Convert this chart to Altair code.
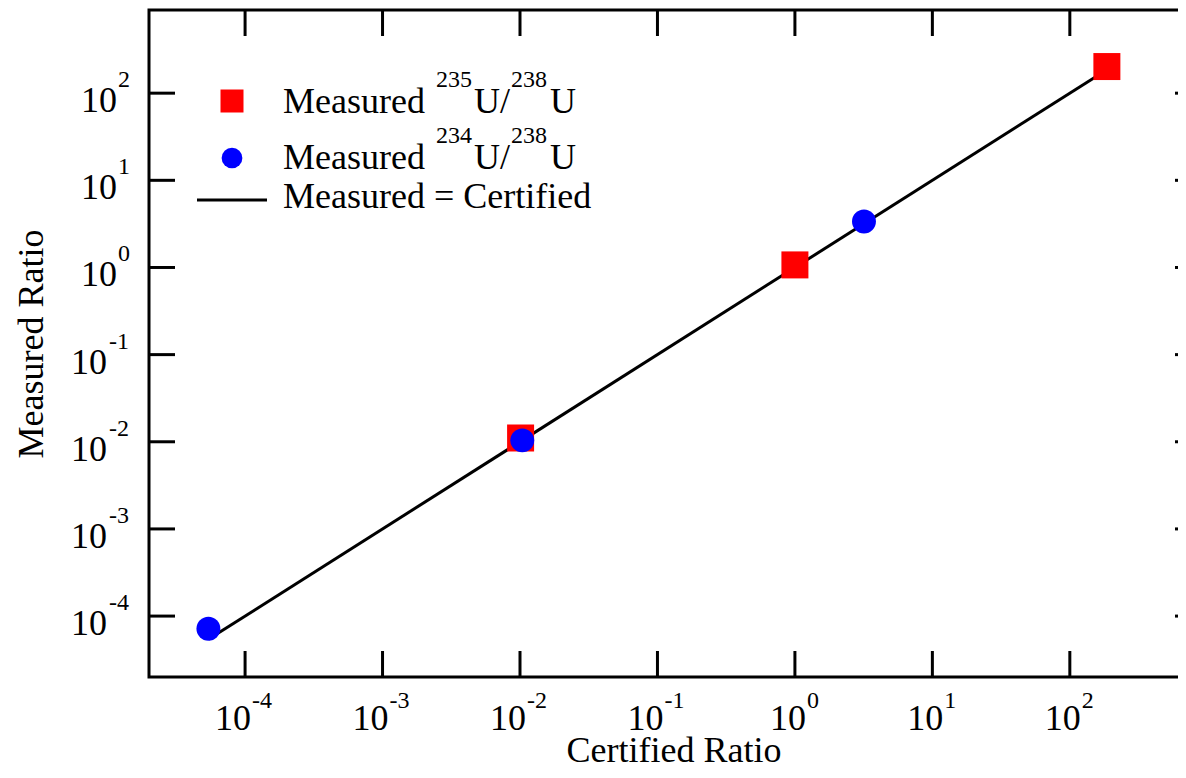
import altair as alt
import pandas as pd

# ---------------- data ----------------
u235_certified = [1.01e-2, 1.0, 186.0]
u235_measured = [1.105e-2, 1.07, 202.0]

u234_certified = [5.41e-5, 1.039e-2, 3.18]
u234_measured = [7.17e-5, 1.038e-2, 3.37]

line_certified = [5.41e-5, 186.0]
line_measured = [5.41e-5, 186.0]

tick_exponents = [-4, -3, -2, -1, 0, 1, 2]
axis_domain = [2e-5, 900.0]

legend_rows = ["Measured", "Measured", "Measured = Certified"]
legend_sup_a = ["235", "234"]
legend_sup_b = ["238", "238"]

# ---------------- layout / style ----------------
W, H = 1052, 667
F = "Liberation Serif"
FS = 36
SUP = 24
TICK = 26

u235 = pd.DataFrame({"c": u235_certified, "m": u235_measured})
u234 = pd.DataFrame({"c": u234_certified, "m": u234_measured})
ident = pd.DataFrame({"c": line_certified, "m": line_measured})
ticks = pd.DataFrame({
    "e": tick_exponents,
    "v": [10.0 ** e for e in tick_exponents],
    "lab": [str(e) for e in tick_exponents],
})
one = pd.DataFrame({"k": [0]})

xs = alt.Scale(type="log", domain=axis_domain, nice=False)
ys = alt.Scale(type="log", domain=axis_domain, nice=False)

xaxis = alt.Axis(title="Certified Ratio", labels=False, ticks=False, domain=False, grid=False,
                 titleFont=F, titleFontSize=FS, titleFontWeight="normal", titleColor="black",
                 titleX=524.5, titleY=84, titleAlign="center", titleBaseline="alphabetic")
yaxis = alt.Axis(title="Measured Ratio", labels=False, ticks=False, domain=False, grid=False,
                 titleFont=F, titleFontSize=FS, titleFontWeight="normal", titleColor="black",
                 titleX=-107, titleY=333.5, titleAngle=270, titleAlign="center",
                 titleBaseline="alphabetic")


def X(f):
    return alt.X(f, type="quantitative", scale=xs, axis=xaxis)


def Y(f):
    return alt.Y(f, type="quantitative", scale=ys, axis=yaxis)


# data layers
line = alt.Chart(ident).mark_line(color="black", strokeWidth=3).encode(x=X("c"), y=Y("m"))
squares = alt.Chart(u235).mark_square(color="#ff0000", size=729, opacity=1).encode(x=X("c"), y=Y("m"))
circles = alt.Chart(u234).mark_circle(color="#0000ff", size=573, opacity=1).encode(x=X("c"), y=Y("m"))

# box + inward ticks on all four sides
frame = alt.Chart(one).mark_rect(fill=None, stroke="black", strokeWidth=3).encode(
    x=alt.value(0), x2=alt.value(W), y=alt.value(0), y2=alt.value(H))
tk = dict(color="black", strokeWidth=3)
t_bottom = alt.Chart(ticks).mark_rule(**tk).encode(x=X("v"), y=alt.value(H), y2=alt.value(H - TICK))
t_top = alt.Chart(ticks).mark_rule(**tk).encode(x=X("v"), y=alt.value(0), y2=alt.value(TICK))
t_left = alt.Chart(ticks).mark_rule(**tk).encode(y=Y("v"), x=alt.value(0), x2=alt.value(TICK))
t_right = alt.Chart(ticks).mark_rule(**tk).encode(y=Y("v"), x=alt.value(W), x2=alt.value(W - TICK))

# tick labels "10" + superscript exponent
txt = dict(font=F, color="black", baseline="alphabetic")
neg = "datum.e < 0"
pos = "datum.e >= 0"
xl_neg = alt.Chart(ticks).transform_filter(neg).mark_text(text="10", align="right", dx=6, dy=53, fontSize=FS, **txt).encode(x=X("v"), y=alt.value(H))
xl_pos = alt.Chart(ticks).transform_filter(pos).mark_text(text="10", align="right", dx=11, dy=53, fontSize=FS, **txt).encode(x=X("v"), y=alt.value(H))
xe_neg = alt.Chart(ticks).transform_filter(neg).mark_text(align="left", dx=7, dy=31, fontSize=SUP, **txt).encode(x=X("v"), y=alt.value(H), text="lab:N")
xe_pos = alt.Chart(ticks).transform_filter(pos).mark_text(align="left", dx=12, dy=31, fontSize=SUP, **txt).encode(x=X("v"), y=alt.value(H), text="lab:N")

yl_neg = alt.Chart(ticks).transform_filter(neg).mark_text(text="10", align="right", dy=19, fontSize=FS, **txt).encode(y=Y("v"), x=alt.value(-42))
yl_pos = alt.Chart(ticks).transform_filter(pos).mark_text(text="10", align="right", dy=19, fontSize=FS, **txt).encode(y=Y("v"), x=alt.value(-32))
ye_neg = alt.Chart(ticks).transform_filter(neg).mark_text(align="left", dy=-6, fontSize=SUP, **txt).encode(y=Y("v"), x=alt.value(-40), text="lab:N")
ye_pos = alt.Chart(ticks).transform_filter(pos).mark_text(align="left", dy=-6, fontSize=SUP, **txt).encode(y=Y("v"), x=alt.value(-31), text="lab:N")

# custom legend (superscript isotope labels)
lg_sq = alt.Chart(one).mark_square(color="#ff0000", size=529, opacity=1).encode(x=alt.value(83), y=alt.value(91))
lg_ci = alt.Chart(one).mark_circle(color="#0000ff", size=430, opacity=1).encode(x=alt.value(83), y=alt.value(148))
lg_ln = alt.Chart(one).mark_rule(color="black", strokeWidth=3).encode(x=alt.value(48), x2=alt.value(118), y=alt.value(190))


def lt(text, x, y, size):
    return alt.Chart(one).mark_text(text=text, align="left", fontSize=size, **txt).encode(x=alt.value(x), y=alt.value(y))


legend_text = [
    lt(legend_rows[0], 134, 103, FS), lt(legend_sup_a[0], 287, 77, SUP), lt("U/", 325, 103, FS),
    lt(legend_sup_b[0], 362, 77, SUP), lt("U", 401, 103, FS),
    lt(legend_rows[1], 134, 159, FS), lt(legend_sup_a[1], 287, 133, SUP), lt("U/", 325, 159, FS),
    lt(legend_sup_b[1], 362, 133, SUP), lt("U", 401, 159, FS),
    lt(legend_rows[2], 134, 198, FS),
]

chart = alt.layer(
    line, squares, circles, frame,
    t_bottom, t_top, t_left, t_right,
    xl_neg, xl_pos, xe_neg, xe_pos, yl_neg, yl_pos, ye_neg, ye_pos,
    lg_sq, lg_ci, lg_ln, *legend_text,
).properties(
    width=W, height=H,
    padding={"left": 141, "top": 2, "right": -23, "bottom": 93},
    autosize=alt.AutoSizeParams(type="none"),
).configure(background="white").configure_view(stroke=None)

chart.save("out.html", embed_options={"renderer": "svg", "actions": False})
